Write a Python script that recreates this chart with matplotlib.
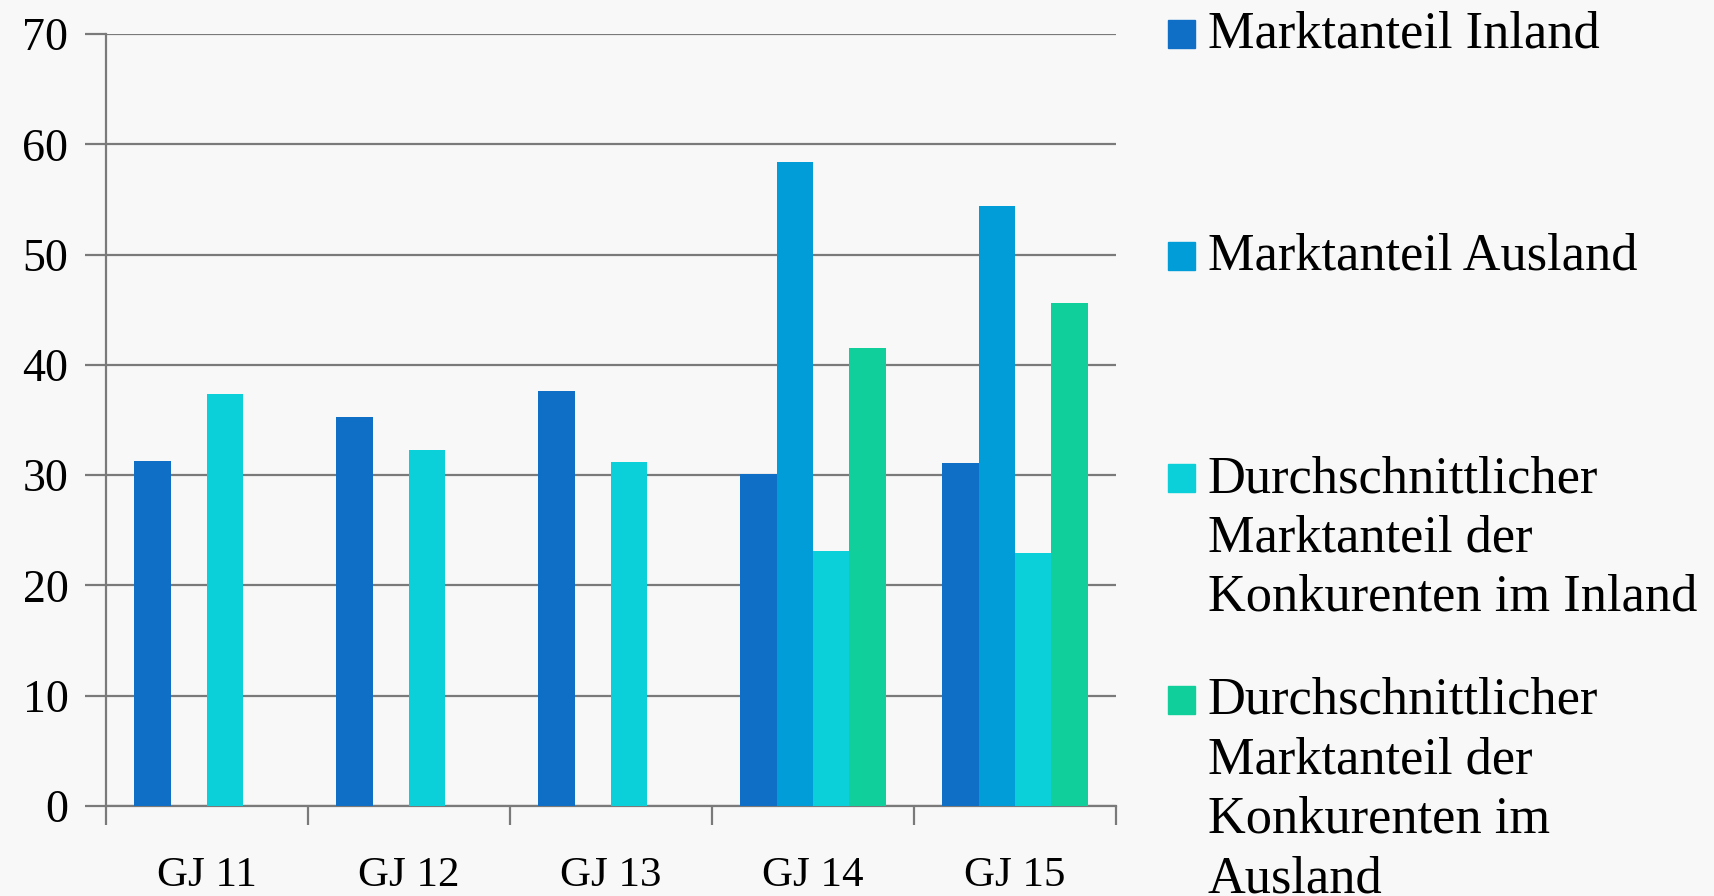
import matplotlib
matplotlib.use("Agg")
import matplotlib.pyplot as plt
from matplotlib.patches import Rectangle
import numpy as np

categories = ["GJ 11", "GJ 12", "GJ 13", "GJ 14", "GJ 15"]
series_names = [
    "Marktanteil Inland",
    "Marktanteil Ausland",
    "Durchschnittlicher\nMarktanteil der\nKonkurenten im Inland",
    "Durchschnittlicher\nMarktanteil der\nKonkurenten im\nAusland",
]
inland = [31.3, 35.3, 37.6, 30.1, 31.1]
ausland = [np.nan, np.nan, np.nan, 58.4, 54.4]
konk_inland = [37.4, 32.3, 31.2, 23.1, 22.9]
konk_ausland = [np.nan, np.nan, np.nan, 41.5, 45.6]
yticks = [0, 10, 20, 30, 40, 50, 60, 70]

colors = ["#0F6FC6", "#009DD9", "#0BD0D9", "#10CF9B"]
bg = "#F8F8F8"
grid_c = "#7A7A7A"
font = "Liberation Serif"

W, H = 1715, 896
fig = plt.figure(figsize=(W / 100, H / 100), dpi=100, facecolor=bg)
ax = fig.add_axes([106 / W, 1 - 806 / H, (1116 - 106) / W, (806 - 34) / H])
ax.set_facecolor(bg)

x = np.arange(len(categories))
bw = 0.18
data = [inland, ausland, konk_inland, konk_ausland]
for i, (vals, c) in enumerate(zip(data, colors)):
    ax.bar(x + (i - 1.5) * bw, vals, width=bw, color=c, zorder=3,
           edgecolor="none")

ax.set_xlim(-0.5, len(categories) - 0.5)
ax.set_ylim(0, 70)
ax.set_yticks(yticks)
ax.set_yticklabels([str(v) for v in yticks], fontfamily=font, fontsize=33)
ax.yaxis.grid(True, color=grid_c, linewidth=1.6, zorder=1)
ax.tick_params(axis="y", length=15, width=1.6, color=grid_c, pad=12)

ax.set_xticks(x)
ax.set_xticklabels(categories, fontfamily=font, fontsize=31)
ax.tick_params(axis="x", which="major", length=0, pad=36)
ax.set_xticks(np.arange(-0.5, len(categories)), minor=True)
ax.tick_params(axis="x", which="minor", length=14, width=1.6, color=grid_c)

for s in ["top", "right"]:
    ax.spines[s].set_visible(False)
for s in ["left", "bottom"]:
    ax.spines[s].set_color(grid_c)
    ax.spines[s].set_linewidth(1.6)
ax.spines["left"].set_zorder(4)

# legend, entries aligned to gridlines 70, 50, 30, 10
entry_y = [34, 256, 478, 700]
for name, c, yy in zip(series_names, colors, entry_y):
    fig.patches.append(Rectangle((1168 / W, 1 - (yy + 14) / H), 27 / W, 28 / H,
                                 transform=fig.transFigure, color=c))
    fig.text(1208 / W, 1 - (yy - 23) / H, name, fontfamily=font, fontsize=37.7,
             va="top", ha="left", linespacing=1.31)

fig.savefig("out.png", dpi=100, facecolor=bg)
